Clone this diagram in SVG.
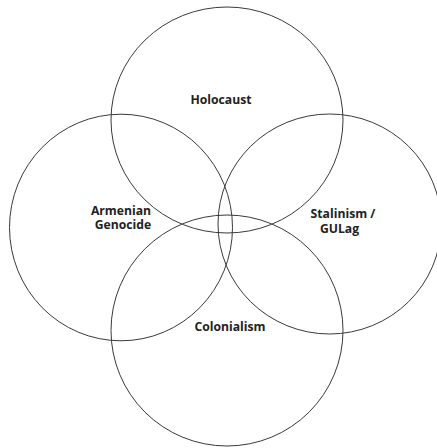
<svg xmlns="http://www.w3.org/2000/svg" width="437" height="448" viewBox="0 0 437 448">
<style>
.c{fill:none;stroke:#3a3a3a;stroke-width:1}
.t{font-family:"Open Sans","DejaVu Sans",sans-serif;font-weight:bold;font-size:12.2px;fill:#222;text-anchor:middle}
</style>
<rect width="437" height="448" fill="#fff"/>
<g id="connectors"></g>
<g id="holocaust"><ellipse class="c" cx="227" cy="120" rx="116" ry="113"/><text class="t" x="221" y="104">Holocaust</text></g>
<g id="armenian"><ellipse class="c" cx="121" cy="227.5" rx="111.5" ry="113.3"/><text class="t" x="121" y="215">Armenian</text><text class="t" x="123" y="229">Genocide</text></g>
<g id="stalinism"><ellipse class="c" cx="329.6" cy="224" rx="111.6" ry="110"/><text class="t" x="343" y="218">Stalinism /</text><text class="t" x="339.5" y="233">GULag</text></g>
<g id="colonialism"><ellipse class="c" cx="227" cy="330.5" rx="116" ry="115.5"/><text class="t" x="230" y="331">Colonialism</text></g>
</svg>
